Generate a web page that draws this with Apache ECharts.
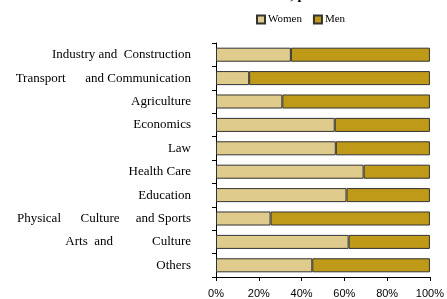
<!DOCTYPE html>
<html>
<head>
<meta charset="utf-8">
<script src="https://cdn.jsdelivr.net/npm/echarts@6/dist/echarts.min.js"></script>
<style>
  html, body { margin: 0; padding: 0; background: #fff; }
  #sector_chart { width: 447px; height: 299px; }
</style>
</head>
<body>
<div id="sector_chart"></div>
<script>
// categories, top to bottom
var sectorList = [
  "Industry and  Construction",
  "Transport      and Communication",
  "Agriculture",
  "Economics",
  "Law",
  "Health Care",
  "Education",
  "Physical      Culture     and Sports",
  "Arts  and            Culture",
  "Others"
];
// share of women, %
var womenList = [35, 15.5, 31, 55.5, 56, 69, 61, 25.5, 62, 45];
// share of men, %
var menList = [65, 84.5, 69, 44.5, 44, 31, 39, 74.5, 38, 55];
var tickList = [0, 20, 40, 60, 80, 100];

var sector_chart = echarts.init(document.getElementById("sector_chart"));
var serif = "'Liberation Serif', 'Times New Roman', serif";
var sans = "'Liberation Sans', Arial, sans-serif";

var option = {
  animation: false,
  title: {
    text: "Share of women and men, percent",
    left: 139,
    top: -12,
    padding: 0,
    textStyle: { fontFamily: serif, fontSize: 14, fontWeight: "bold", color: "#000" }
  },
  legend: {
    top: 14,
    left: 256,
    itemWidth: 8,
    itemHeight: 8,
    itemGap: 11,
    padding: 0,
    selectedMode: false,
    textStyle: { fontFamily: serif, fontSize: 11, color: "#000", padding: [0, 0, 0, -2] },
    data: [
      { name: "Women", icon: "rect" },
      { name: "Men", icon: "rect" }
    ]
  },
  grid: { left: 216, right: 14, top: 43, bottom: 22, containLabel: false },
  xAxis: {
    type: "value",
    min: tickList[0],
    max: tickList[tickList.length - 1],
    interval: 20,
    axisLine: { show: true, lineStyle: { color: "#000", width: 1 } },
    axisTick: { show: true, length: 4, lineStyle: { color: "#000" } },
    splitLine: { show: false },
    axisLabel: {
      formatter: "{value}%",
      margin: 11,
      fontFamily: sans,
      fontSize: 11,
      color: "#000"
    }
  },
  yAxis: {
    type: "category",
    inverse: true,
    data: sectorList,
    axisLine: { show: true, lineStyle: { color: "#000", width: 1 } },
    axisTick: { show: true, length: 4, lineStyle: { color: "#000" } },
    axisLabel: {
      margin: 25,
      fontFamily: serif,
      fontSize: 13,
      color: "#000"
    }
  },
  series: [
    {
      name: "Women",
      type: "bar",
      stack: "all",
      barCategoryGap: "40%",
      itemStyle: { color: "#DFCB8B", borderColor: "#333", borderWidth: 1 },
      data: womenList
    },
    {
      name: "Men",
      type: "bar",
      stack: "all",
      barCategoryGap: "40%",
      itemStyle: { color: "#BE9A18", borderColor: "#333", borderWidth: 1 },
      data: menList
    }
  ]
};
sector_chart.setOption(option);
</script>
</body>
</html>
